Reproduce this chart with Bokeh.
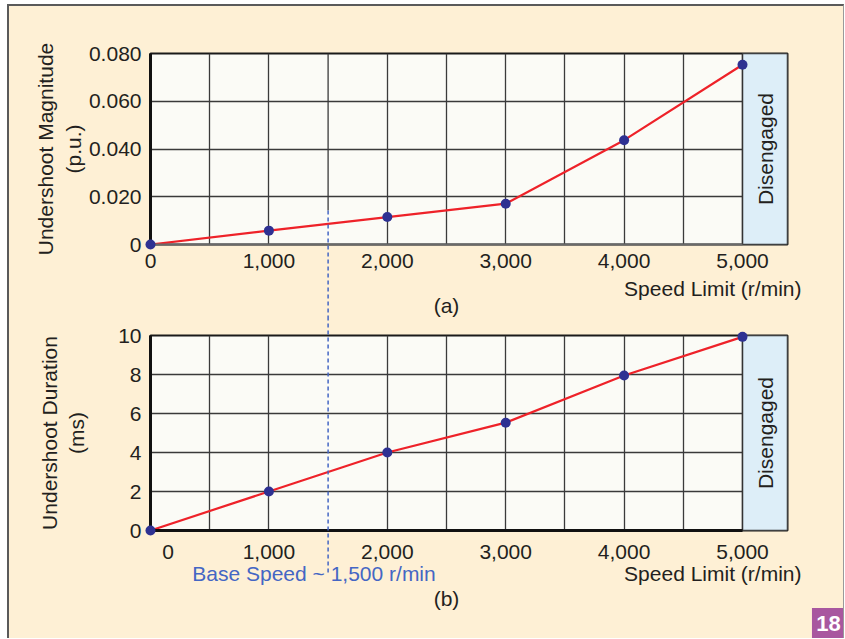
import math
from bokeh.plotting import figure
from bokeh.layouts import column
from bokeh.models import FixedTicker, Range1d, ColumnDataSource
from bokeh.core.properties import value
from bokeh.embed import file_html
from bokeh.resources import INLINE

# ---------------- data ----------------
speed = [0, 1000, 2000, 3000, 4000, 5000]
magnitude = [0.0, 0.0058, 0.0115, 0.0171, 0.0437, 0.0753]
duration = [0.0, 2.0, 4.0, 5.53, 7.95, 9.93]

x_ticks = [0, 1000, 2000, 3000, 4000, 5000]
x_tick_labels = ["0", "1,000", "2,000", "3,000", "4,000", "5,000"]
x_minor_top = [500, 2500, 3500, 4500]
x_minor_bottom = [500, 2500, 3500, 4500]
mag_ticks = [0, 0.02, 0.04, 0.06, 0.08]
mag_tick_labels = ["0", "0.020", "0.040", "0.060", "0.080"]
dur_ticks = [0, 2, 4, 6, 8, 10]
dur_tick_labels = ["0", "2", "4", "6", "8", "10"]

base_speed = 1500
base_speed_text = "Base Speed ~ 1,500 r/min"
disengaged_x = [5000, 5380]
x_label = "Speed Limit (r/min)"

# ---------------- style ----------------
FONT = "Liberation Sans"
CREAM = "#FEF0D5"
PLOT_BG = "#FBFBF6"
TXT = "#231F20"
GRID = "#3a3a3a"
RED = "#EE2229"
DOT = "#2E3192"
BLUE = "#4466C4"
SKY = "#DDEEF8"
FS = "21px"


def make_panel(height, top, bottom, yr, yticks, ylabels, ylabel, ystd, minor, xlabels):
    p = figure(width=834, height=height, output_backend="svg", toolbar_location=None,
               x_range=Range1d(0, disengaged_x[1]), y_range=yr,
               min_border_left=141, min_border_right=56,
               min_border_top=top, min_border_bottom=bottom)
    p.background_fill_color = PLOT_BG
    p.border_fill_color = CREAM
    p.outline_line_color = "#1a1a1a"
    p.outline_line_width = 2

    p.xaxis.ticker = FixedTicker(ticks=x_ticks, minor_ticks=minor)
    p.xaxis.major_label_overrides = dict(zip(x_ticks, xlabels))
    p.yaxis.ticker = FixedTicker(ticks=yticks)
    p.yaxis.major_label_overrides = dict(zip(yticks, ylabels))
    for ax in (p.xaxis, p.yaxis):
        ax.major_tick_out = 0
        ax.major_tick_in = 0
        ax.minor_tick_out = 0
        ax.minor_tick_in = 0
        ax.major_label_text_font = FONT
        ax.major_label_text_font_size = FS
        ax.major_label_text_color = TXT
        ax.axis_label_text_font = FONT
        ax.axis_label_text_font_size = FS
        ax.axis_label_text_font_style = "normal"
        ax.axis_label_text_color = TXT
    p.xaxis.major_label_standoff = 9
    p.yaxis.major_label_standoff = 9
    p.xaxis.bounds = (0, disengaged_x[0])
    p.yaxis.axis_line_width = 3
    p.yaxis.axis_line_color = "#111111"
    p.xaxis.axis_line_width = 3
    p.xaxis.axis_line_color = "#222222"
    p.yaxis.axis_label = ylabel
    p.yaxis.axis_label_standoff = ystd
    p.yaxis.axis_label_text_line_height = 1.2

    for g in (p.xgrid, p.ygrid):
        g.grid_line_color = GRID
        g.grid_line_width = 1.3
    p.xgrid.minor_grid_line_color = GRID
    p.xgrid.minor_grid_line_width = 1.3

    # disengaged region
    p.quad(left=[disengaged_x[0]], right=[disengaged_x[1]], bottom=[yr.start], top=[yr.end],
           fill_color=SKY, line_color="#333333", line_width=1.5)
    p.text(x=[(disengaged_x[0] + disengaged_x[1]) / 2], y=[(yr.start + yr.end) / 2],
           text=["Disengaged"], angle=math.pi / 2, text_align="center",
           text_baseline="middle", text_font=value(FONT), text_font_size=value(FS),
           text_color=TXT)
    return p


def note(p, x, y, txt, align="center", color=TXT, size=FS, style="normal"):
    p.text(x=[x], y=[y], text=[txt], text_align=align, text_baseline="middle",
           text_font=value(FONT), text_font_size=value(size), text_font_style=style,
           text_color=color, level="overlay")


# ---------------- panel (a) ----------------
ra = Range1d(0, 0.08)
pa = make_panel(312, 47, 74, ra, mag_ticks, mag_tick_labels,
                "Undershoot Magnitude\n(p.u.)", 1, x_minor_top, x_tick_labels)
pa.xaxis.axis_line_color = "#6a6a6a"
pa.xaxis.axis_line_width = 2
# reserve the space under panel (a) inside its axis panel (keeps the dashed line drawn there)
pa.xaxis.axis_label = "\u00a0"
pa.xaxis.axis_label_standoff = 12
src_a = ColumnDataSource(dict(x=speed, y=magnitude))
pa.segment(x0=[base_speed], y0=[0.08], x1=[base_speed], y1=[0.0142],
           line_color=GRID, line_width=1.3)
pa.segment(x0=[base_speed], y0=[0.0142], x1=[base_speed], y1=[-0.2],
           line_color=BLUE, line_width=1.5, line_dash="4 3", level="overlay")
pa.line("x", "y", source=src_a, line_color=RED, line_width=2.2)
pa.scatter("x", "y", source=src_a, size=10, fill_color=DOT, line_color=None, level="overlay")
note(pa, 5498, -0.0186, x_label, align="right")
note(pa, 2500, -0.0255, "(a)")

# ---------------- panel (b) ----------------
rb = Range1d(0, 10)
xlabels_b = ["\u00a0" * 6 + x_tick_labels[0]] + x_tick_labels[1:]
pb = make_panel(320, 17, 108, rb, dur_ticks, dur_tick_labels,
                "Undershoot Duration\n(ms)", 27, x_minor_bottom, xlabels_b)
pb.xaxis.axis_line_color = "#111111"
src_b = ColumnDataSource(dict(x=speed, y=duration))
pb.segment(x0=[base_speed], y0=[30], x1=[base_speed], y1=[-2.2],
           line_color=BLUE, line_width=1.5, line_dash="4 3", level="overlay")
pb.line("x", "y", source=src_b, line_color=RED, line_width=2.2)
pb.scatter("x", "y", source=src_b, size=10, fill_color=DOT, line_color=None, level="overlay")
note(pb, 5498, -2.23, x_label, align="right")
note(pb, 1381, -2.2, base_speed_text, color=BLUE)
note(pb, 2500, -3.49, "(b)")
pb.rect(x=[5726], y=[-4.77], width=33, height=31, width_units="screen", height_units="screen",
        fill_color="#A8579F", line_color=None, level="overlay")
note(pb, 5726, -4.77, "18", color="white", size="22px", style="bold")

layout = column(pa, pb, spacing=0,
                styles={"border-left": "2px solid #5a5a5a", "border-top": "2px solid #5a5a5a",
                        "border-right": "1px solid #9a9a9a",
                        "margin-left": "7px", "margin-top": "4px",
                        "background-color": CREAM})

open("out.html", "w").write(file_html(layout, INLINE))
